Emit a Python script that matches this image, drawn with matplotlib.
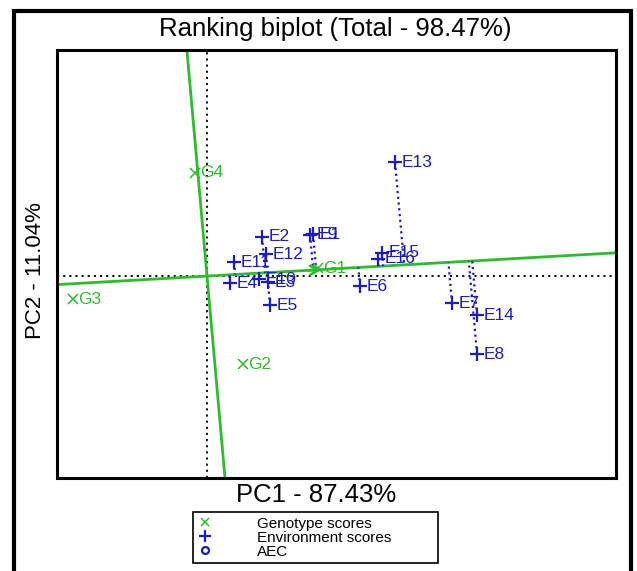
import numpy as np
import matplotlib
matplotlib.use('Agg')
import matplotlib.pyplot as plt
from matplotlib.lines import Line2D
from matplotlib.patches import Rectangle

plt.rcParams['font.family'] = ['Liberation Sans', 'DejaVu Sans']

# environment scores (PC1, PC2)
env_names = ['E1', 'E2', 'E3', 'E4', 'E5', 'E6', 'E7', 'E8', 'E9', 'E10',
             'E11', 'E12', 'E13', 'E14', 'E15', 'E16']
env_pc1 = [2.12, 1.10, 1.22, 0.46, 1.26, 3.06, 4.90, 5.40, 2.06, 1.04,
           0.54, 1.18, 3.76, 5.40, 3.50, 3.42]
env_pc2 = [1.05, 0.98, -0.15, -0.18, -0.73, -0.25, -0.68, -1.95, 1.03, -0.08,
           0.35, 0.55, 2.85, -0.98, 0.58, 0.43]

# genotype scores
gen_names = ['G1', 'G2', 'G3', 'G4']
gen_pc1 = [2.22, 0.72, -2.68, -0.24]
gen_pc2 = [0.20, -2.20, -0.58, 2.58]

# average environment coordinate
aec = [2.36, 0.168]

xlim = (-3.0, 8.18)
ylim = (-5.05, 5.65)

blue = '#1c1cc0'
green = '#2cbd2c'

fig = plt.figure(figsize=(6.37, 5.71), dpi=100)
ax = fig.add_axes([0.0895, 0.163, 0.8776, 0.749])

# dotted lines through origin
ax.axhline(0, color='black', ls=(0, (1.2, 2.2)), lw=1.3)
ax.axvline(0, color='black', ls=(0, (1.2, 2.2)), lw=1.3)

# AEC abscissa and its perpendicular
d = np.array(aec) / np.hypot(*aec)
p = np.array([-d[1], d[0]])
t = np.array([-20, 20])
ax.plot(t * d[0], t * d[1], color=green, lw=2)
ax.plot(t * p[0], t * p[1], color=green, lw=2)
ax.annotate('', xy=(aec[0], aec[1]), xytext=(aec[0] - 0.4 * d[0], aec[1] - 0.4 * d[1]),
            arrowprops=dict(arrowstyle='->', color=green, lw=2, mutation_scale=16))

# projections of environments onto the AEC
for x, y in zip(env_pc1, env_pc2):
    s = x * d[0] + y * d[1]
    ax.plot([x, s * d[0]], [y, s * d[1]], color=blue, ls=(0, (1, 1.6)), lw=1.6)

ax.plot(env_pc1, env_pc2, ls='none', marker='+', ms=10, mew=1.6, color=blue)
for n, x, y in zip(env_names, env_pc1, env_pc2):
    ax.annotate(n, (x, y), xytext=(5, 0), textcoords='offset points',
                va='center', ha='left', color=blue, fontsize=12.5)

ax.plot(gen_pc1, gen_pc2, ls='none', marker='x', ms=6.5, mew=1.1, color=green)
for n, x, y in zip(gen_names, gen_pc1, gen_pc2):
    ax.annotate(n, (x, y), xytext=(3.5, 0), textcoords='offset points',
                va='center', ha='left', color=green, fontsize=12.5)

ax.set_xlim(xlim)
ax.set_ylim(ylim)
ax.set_xticks([])
ax.set_yticks([])
for sp in ax.spines.values():
    sp.set_linewidth(2.2)

fig.text(0.527, 0.949, 'Ranking biplot (Total - 98.47%)', ha='center', va='center', fontsize=18.5)
fig.text(0.497, 0.133, 'PC1 - 87.43%', ha='center', va='center', fontsize=18.5)
fig.text(0.055, 0.527, 'PC2 - 11.04%', ha='center', va='center', fontsize=16, rotation=90)

# outer frame
fig.patches.append(Rectangle((14 / 637, -0.05), 617 / 637, 1.05 - 11 / 571,
                             transform=fig.transFigure, fill=False, lw=3, ec='black'))

handles = [Line2D([], [], ls='none', marker='x', ms=6, mew=1.1, color=green),
           Line2D([], [], ls='none', marker='+', ms=9, mew=1.6, color=blue),
           Line2D([], [], ls='none', marker='o', ms=5, mew=1.6, mfc='none', color=blue)]
leg = fig.legend(handles, ['Genotype scores', 'Environment scores', 'AEC'],
                 loc='center', bbox_to_anchor=(0.303, 0.0105, 0.385, 0.096),
                 mode='expand', fancybox=False, edgecolor='black', framealpha=1,
                 fontsize=11, handlelength=1.0, handletextpad=2.9, labelspacing=0.0,
                 borderpad=0.3, borderaxespad=0)
leg.get_frame().set_linewidth(1.2)

fig.savefig('out.png', dpi=100)
